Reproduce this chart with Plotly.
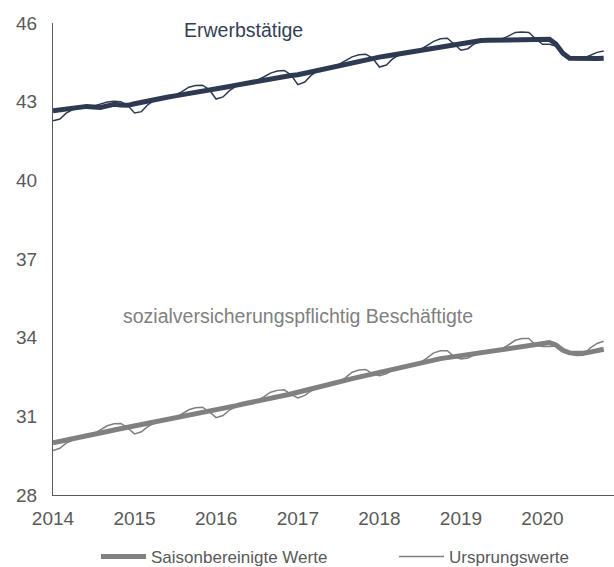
import pandas as pd
import plotly.graph_objects as go

months = pd.date_range("2014-01-01", "2020-10-01", freq="MS")

erw_sa = [
    42.65, 42.68, 42.71, 42.74, 42.78, 42.82, 42.80, 42.78, 42.84, 42.90, 42.87, 42.86,
    42.92, 42.98, 43.04, 43.09, 43.14, 43.18, 43.22, 43.26, 43.30, 43.35, 43.40, 43.45,
    43.50, 43.54, 43.58, 43.63, 43.68, 43.73, 43.78, 43.82, 43.86, 43.92, 43.97, 44.00,
    44.03, 44.09, 44.15, 44.21, 44.27, 44.33, 44.38, 44.44, 44.49, 44.54, 44.59, 44.64,
    44.70, 44.74, 44.78, 44.82, 44.86, 44.90, 44.94, 44.98, 45.02, 45.06, 45.10, 45.15,
    45.22, 45.27, 45.31, 45.33, 45.34, 45.34, 45.35, 45.35, 45.35, 45.36, 45.36, 45.37,
    45.38, 45.38, 45.20, 44.85, 44.66, 44.65, 44.64, 44.64, 44.65, 44.66,
]
erw_orig = [
    42.27, 42.34, 42.56, 42.71, 42.78, 42.84, 42.83, 42.90, 42.99, 43.02, 43.00, 42.86,
    42.57, 42.62, 42.88, 43.06, 43.14, 43.20, 43.25, 43.38, 43.55, 43.62, 43.63, 43.46,
    43.10, 43.18, 43.42, 43.60, 43.68, 43.75, 43.81, 43.94, 44.09, 44.17, 44.19, 44.02,
    43.65, 43.75, 44.00, 44.18, 44.27, 44.35, 44.41, 44.56, 44.71, 44.79, 44.81, 44.66,
    44.32, 44.40, 44.63, 44.79, 44.86, 44.92, 44.97, 45.12, 45.30, 45.40, 45.42, 45.20,
    44.96, 45.02, 45.20, 45.32, 45.34, 45.36, 45.38, 45.50, 45.64, 45.66, 45.64, 45.40,
    45.19, 45.19, 45.12, 44.86, 44.66, 44.65, 44.66, 44.76, 44.88, 44.93,
]
svb_sa = [
    29.99, 30.04, 30.10, 30.15, 30.21, 30.26, 30.32, 30.37, 30.42, 30.48, 30.53, 30.58,
    30.63, 30.68, 30.73, 30.78, 30.83, 30.88, 30.93, 30.98, 31.03, 31.08, 31.13, 31.19,
    31.25, 31.30, 31.36, 31.41, 31.47, 31.52, 31.58, 31.63, 31.69, 31.74, 31.79, 31.85,
    31.92, 31.98, 32.04, 32.11, 32.17, 32.24, 32.30, 32.37, 32.44, 32.50, 32.57, 32.63,
    32.69, 32.75, 32.81, 32.87, 32.93, 32.99, 33.05, 33.10, 33.15, 33.20, 33.24, 33.28,
    33.32, 33.36, 33.40, 33.44, 33.48, 33.52, 33.56, 33.59, 33.62, 33.66, 33.70, 33.74,
    33.78, 33.81, 33.72, 33.52, 33.42, 33.40, 33.41, 33.45, 33.50, 33.56,
]
svb_orig = [
    29.70, 29.78, 29.98, 30.11, 30.21, 30.28, 30.32, 30.48, 30.64, 30.72, 30.73, 30.56,
    30.33, 30.41, 30.61, 30.74, 30.83, 30.90, 30.93, 31.08, 31.25, 31.33, 31.35, 31.18,
    30.95, 31.03, 31.24, 31.37, 31.47, 31.54, 31.58, 31.74, 31.92, 31.99, 32.01, 31.84,
    31.70, 31.80, 31.97, 32.08, 32.15, 32.18, 32.30, 32.47, 32.68, 32.77, 32.79, 32.62,
    32.55, 32.62, 32.76, 32.85, 32.91, 32.92, 33.04, 33.22, 33.42, 33.50, 33.50, 33.28,
    33.19, 33.22, 33.34, 33.42, 33.46, 33.44, 33.56, 33.72, 33.90, 33.97, 33.97, 33.72,
    33.66, 33.66, 33.68, 33.50, 33.38, 33.32, 33.33, 33.60, 33.78, 33.86,
]

y_ticks = [28, 31, 34, 37, 40, 43, 46]
x_years = ["2014", "2015", "2016", "2017", "2018", "2019", "2020"]
legend_names = ["Saisonbereinigte Werte", "Ursprungswerte"]
label_erw = "Erwerbstätige"
label_svb = "sozialversicherungspflichtig Beschäftigte"

NAVY = "#2d3a52"
GREY = "#808080"
TXT = "#595959"
FONT = "Liberation Sans, Arial, sans-serif"

fig = go.Figure()
fig.add_trace(go.Scatter(x=months, y=svb_sa, mode="lines", name=legend_names[0],
                         legend="legend", line=dict(color=GREY, width=5)))
fig.add_trace(go.Scatter(x=months, y=svb_orig, mode="lines", name=legend_names[1],
                         legend="legend2", line=dict(color=GREY, width=1.5)))
fig.add_trace(go.Scatter(x=months, y=erw_sa, mode="lines", showlegend=False,
                         line=dict(color=NAVY, width=5)))
fig.add_trace(go.Scatter(x=months, y=erw_orig, mode="lines", showlegend=False,
                         line=dict(color=NAVY, width=1.5)))

fig.add_annotation(x="2016-05-01", y=45.72, text=label_erw, showarrow=False,
                   font=dict(family=FONT, size=19.5, color="#333f55"))
fig.add_annotation(x="2017-01-01", y=34.82, text=label_svb, showarrow=False,
                   font=dict(family=FONT, size=19.5, color=GREY))

leg_common = dict(orientation="h", yanchor="middle", xanchor="left",
                  yref="container", y=(567 - 557) / 567,
                  bgcolor="rgba(0,0,0,0)", borderwidth=0,
                  font=dict(family=FONT, size=17, color=TXT), itemwidth=45)
fig.update_layout(
    width=614, height=567,
    margin=dict(l=53, r=0, t=23, b=72, autoexpand=False),
    paper_bgcolor="white", plot_bgcolor="white",
    font=dict(family=FONT, size=19, color=TXT),
    showlegend=True,
    hovermode=False,
    legend=dict(x=(96 - 53) / 561, **leg_common),
    legend2=dict(x=(394 - 53) / 561, **leg_common),
)
fig.update_xaxes(
    range=["2014-01-01", "2020-11-16"],
    tickvals=[f"{y}-01-01" for y in x_years], ticktext=x_years,
    showgrid=False, zeroline=False, showline=True, linecolor=TXT, linewidth=1,
    ticks="", ticklabelstandoff=6,
    tickfont=dict(family=FONT, size=19, color=TXT),
)
fig.update_yaxes(
    range=[28, 46], tickvals=y_ticks,
    showgrid=False, zeroline=False, showline=True, linecolor=TXT, linewidth=1,
    ticks="", ticklabelstandoff=11,
    tickfont=dict(family=FONT, size=19, color=TXT),
)

fig.write_html("out.html", config={"displayModeBar": False},
               post_script="document.body.style.margin='0';")
